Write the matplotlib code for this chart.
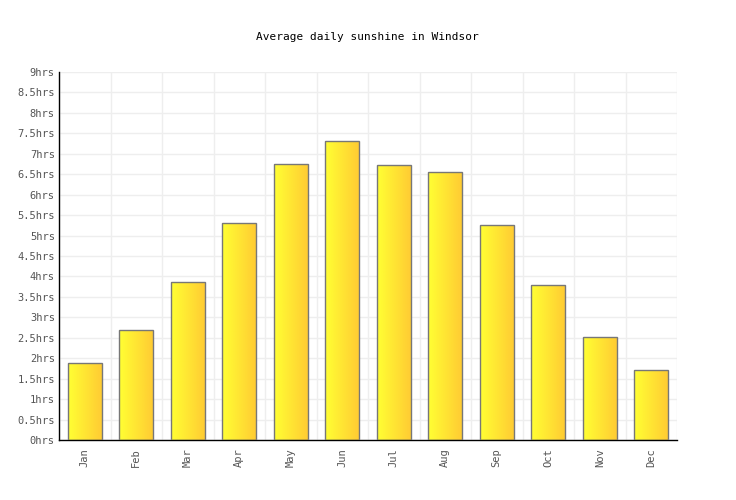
import matplotlib.pyplot as plt
import numpy as np
from matplotlib.colors import LinearSegmentedColormap

months = ["Jan", "Feb", "Mar", "Apr", "May", "Jun",
          "Jul", "Aug", "Sep", "Oct", "Nov", "Dec"]
sunshine = [1.88, 2.69, 3.86, 5.31, 6.75, 7.31, 6.73, 6.55, 5.26, 3.79, 2.52, 1.71]
yticks = np.arange(0, 9.5, 0.5)
ytick_labels = [("%g" % v) + "hrs" for v in yticks]

plt.rcParams["font.family"] = ["DejaVu Sans Mono"]

fig = plt.figure(figsize=(7.36, 5.0), dpi=100)
ax = fig.add_axes([59 / 736, 60 / 500, 618 / 736, 368 / 500])

grad = LinearSegmentedColormap.from_list("sun", ["#ffff33", "#ffcc33"])
gradient = np.linspace(0, 1, 64).reshape(1, -1)

x = np.arange(len(months))
bars = ax.bar(x, sunshine, width=0.66, color="none", edgecolor="#777777",
              linewidth=1.0, zorder=3)
for b in bars:
    x0, y0 = b.get_x(), b.get_y()
    w, h = b.get_width(), b.get_height()
    im = ax.imshow(gradient, cmap=grad, aspect="auto",
                   extent=(x0, x0 + w, y0, y0 + h), zorder=2)
    im.set_clip_path(b)

ax.set_xlim(-0.5, len(months) - 0.5)
ax.set_ylim(0, 9)
ax.set_xticks(x)
ax.set_xticklabels(months, rotation=90, fontsize=7.5, color="#555555")
ax.set_yticks(yticks)
ax.set_yticklabels(ytick_labels, fontsize=7.5, color="#555555")
ax.set_xticks(np.arange(-0.5, len(months), 1), minor=True)
ax.tick_params(axis="x", which="both", length=0, pad=6)
ax.tick_params(axis="y", length=0, pad=3)
ax.grid(True, which="minor", axis="x", color="#eeeeee", linewidth=1, zorder=0)
ax.grid(True, which="major", axis="y", color="#eeeeee", linewidth=1, zorder=0)
ax.set_axisbelow(True)

for s in ["top", "right"]:
    ax.spines[s].set_visible(False)
for s in ["left", "bottom"]:
    ax.spines[s].set_color("black")
    ax.spines[s].set_linewidth(1)

fig.text(367 / 736, 1 - 37 / 500, "Average daily sunshine in Windsor",
         ha="center", va="center", fontsize=8, color="black")

fig.savefig("out.png", dpi=100)
